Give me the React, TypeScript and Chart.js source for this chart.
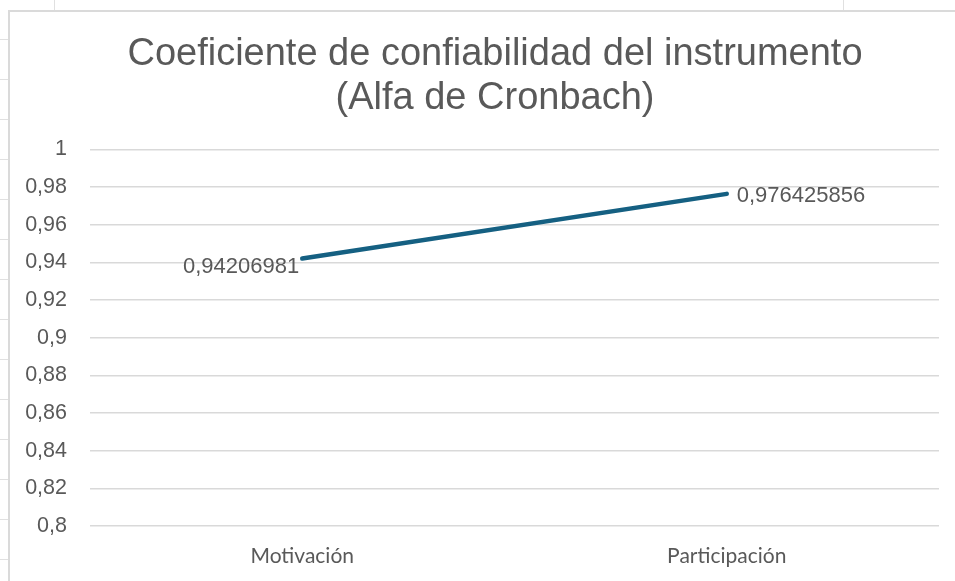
import React, { useEffect, useRef } from 'react';
import { Chart, registerables } from 'chart.js';

Chart.register(...registerables);

const TITLE_LINES = ['Coeficiente de confiabilidad del instrumento', '(Alfa de Cronbach)'];
const CATEGORIES = ['Motivación', 'Participación'];
const ALPHA_VALUES = [0.94206981, 0.976425856];
const VALUE_LABELS = ['0,94206981', '0,976425856'];
const LABEL_SIDES = ['left', 'right'];
const Y_TICK_VALUES = [0.8, 0.82, 0.84, 0.86, 0.88, 0.9, 0.92, 0.94, 0.96, 0.98, 1];
const Y_TICK_LABELS = ['0,8', '0,82', '0,84', '0,86', '0,88', '0,9', '0,92', '0,94', '0,96', '0,98', '1'];

const TEXT_COLOR = '#595959';
const GRID_COLOR = '#d9d9d9';
const LINE_COLOR = '#156082';
const ARIAL = '"Liberation Sans", Arial, sans-serif';
const APTOS = 'Lato, "Open Sans", sans-serif';

const CANVAS_W = 970;
const CANVAS_H = 569;

const valueLabelPlugin = {
  id: 'valueLabels',
  afterDatasetsDraw(chart: any) {
    const meta = chart.getDatasetMeta(0);
    const ctx = chart.ctx;
    ctx.save();
    ctx.font = `22px ${ARIAL}`;
    ctx.fillStyle = TEXT_COLOR;
    ctx.textBaseline = 'middle';
    meta.data.forEach((pt: any, i: number) => {
      if (LABEL_SIDES[i] === 'left') {
        ctx.textAlign = 'right';
        ctx.fillText(VALUE_LABELS[i], pt.x - 3, pt.y + 8);
      } else {
        ctx.textAlign = 'left';
        ctx.fillText(VALUE_LABELS[i], pt.x + 10, pt.y + 2);
      }
    });
    ctx.restore();
  },
};

const LEFT_TICKS = [39, 79, 119, 159, 199, 239, 279, 319, 359, 399, 439, 479, 519, 559];
const TOP_TICKS = [54, 843];

export default function App() {
  const ref = useRef<HTMLCanvasElement>(null);

  useEffect(() => {
    const chart = new Chart(ref.current as HTMLCanvasElement, {
      type: 'line',
      data: {
        labels: CATEGORIES,
        datasets: [
          {
            data: ALPHA_VALUES,
            yAxisID: 'y',
            borderColor: LINE_COLOR,
            backgroundColor: LINE_COLOR,
            borderWidth: 4.5,
            borderCapStyle: 'round',
            pointRadius: 0,
            pointHoverRadius: 0,
            tension: 0,
          },
        ],
      },
      options: {
        animation: false,
        responsive: false,
        devicePixelRatio: 1,
        layout: { padding: { left: 0, right: 0, top: 0, bottom: 0 } },
        plugins: {
          legend: { display: false },
          tooltip: { enabled: false },
          title: {
            display: true,
            text: TITLE_LINES,
            color: TEXT_COLOR,
            font: { family: ARIAL, size: 38, weight: 'normal', lineHeight: 44 / 38 },
            padding: { top: 20.5, bottom: 29 },
          },
        },
        scales: {
          x: {
            type: 'category',
            offset: true,
            grid: { display: false },
            border: { display: false },
            ticks: { color: TEXT_COLOR, font: { family: APTOS, size: 21 }, padding: 10, maxRotation: 0 },
            afterFit: (scale: any) => {
              scale.height = 55;
            },
          },
          y: {
            position: 'left',
            min: 0.8,
            max: 1,
            grid: { color: GRID_COLOR, lineWidth: 1.5, drawTicks: false },
            border: { display: false },
            ticks: {
              color: TEXT_COLOR,
              font: { family: ARIAL, size: 21.5 },
              padding: 23,
              callback: (_v: any, i: number) => Y_TICK_LABELS[i],
            },
            afterBuildTicks: (scale: any) => {
              scale.ticks = Y_TICK_VALUES.map((v) => ({ value: v }));
            },
            afterFit: (scale: any) => {
              scale.width = 80;
            },
          },
          rightSpace: {
            type: 'linear',
            position: 'right',
            display: true,
            grid: { display: false, drawTicks: false },
            border: { display: false },
            ticks: { display: false },
            afterFit: (scale: any) => {
              scale.width = 41;
            },
          },
        },
      },
      plugins: [valueLabelPlugin],
    } as any);
    return () => chart.destroy();
  }, []);

  return (
    <div style={{ position: 'fixed', left: 0, top: 0, width: 955, height: 581, background: '#fff', overflow: 'hidden' }}>
      <div
        style={{
          position: 'absolute',
          left: 8,
          top: 10,
          width: 947,
          height: 571,
          borderLeft: '2px solid #dadada',
          borderTop: '2px solid #dadada',
          boxSizing: 'border-box',
        }}
      />
      {LEFT_TICKS.map((y) => (
        <div key={'l' + y} style={{ position: 'absolute', left: 0, top: y, width: 8, height: 1, background: '#e0e0e0' }} />
      ))}
      {TOP_TICKS.map((x) => (
        <div key={'t' + x} style={{ position: 'absolute', left: x, top: 0, width: 1, height: 10, background: '#e0e0e0' }} />
      ))}
      <div style={{ position: 'absolute', left: 10, top: 12, width: CANVAS_W, height: CANVAS_H }}>
        <canvas
          ref={ref}
          width={CANVAS_W}
          height={CANVAS_H}
          style={{ display: 'block', width: CANVAS_W, height: CANVAS_H }}
        />
      </div>
    </div>
  );
}
